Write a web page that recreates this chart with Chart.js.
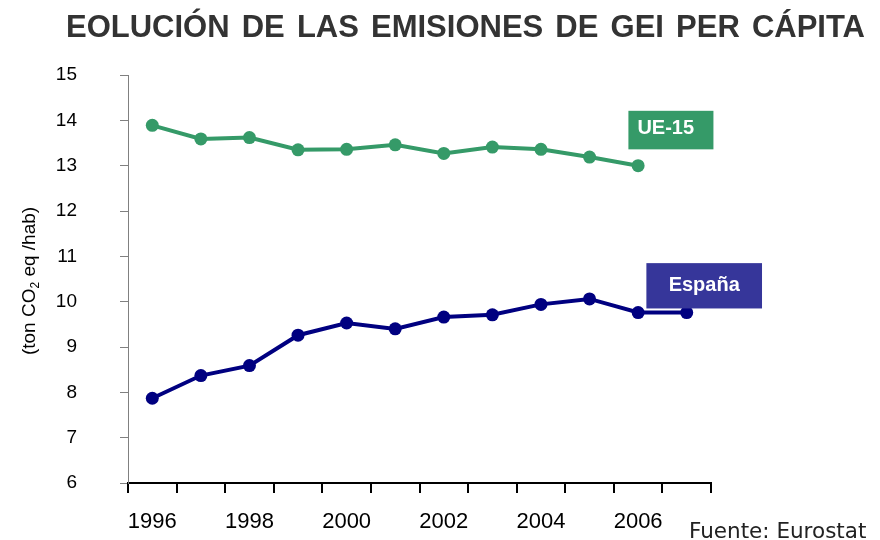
<!DOCTYPE html>
<html lang="es">
<head>
<meta charset="UTF-8">
<title>Evolución de las emisiones de GEI per cápita</title>
<script src="https://cdn.jsdelivr.net/npm/chart.js"></script>
<style>
  html, body { margin: 0; padding: 0; background: #fff; }
  .wrap { position: relative; width: 880px; height: 540px; }
</style>
</head>
<body>
<div class="wrap"><canvas id="chartGei" width="880" height="540"></canvas></div>
<script>
  // datos (t CO2 eq / habitante)
  const years = ['1996', '1997', '1998', '1999', '2000', '2001', '2002', '2003', '2004', '2005', '2006', '2007'];
  const xTickLabels = ['1996', '', '1998', '', '2000', '', '2002', '', '2004', '', '2006', ''];
  const ue15 = [13.89, 13.59, 13.62, 13.35, 13.36, 13.46, 13.27, 13.41, 13.36, 13.19, 13.00, null];
  const espana = [7.87, 8.37, 8.59, 9.26, 9.53, 9.40, 9.66, 9.71, 9.94, 10.06, 9.76, 9.76];
  const yMin = 6, yMax = 15;

  const GREEN = '#359a68';
  const NAVY = '#000080';
  const FONT = '"Liberation Sans", Arial, sans-serif';

  // etiquetas de serie (caja en unidades de los ejes)
  const seriesBoxes = [
    { text: 'UE-15', bg: GREEN, x0: 9.8, x1: 11.55, y0: 14.21, y1: 13.36, align: 'left' },
    { text: 'España', bg: '#36369a', x0: 10.17, x1: 12.55, y0: 10.85, y1: 9.85, align: 'center' }
  ];

  const decoPlugin = {
    id: 'deco',
    afterDraw(chart) {
      const ctx = chart.ctx;
      const xs = chart.scales.x, ys = chart.scales.y;

      // título (justificado entre 66 y 865 px)
      ctx.save();
      ctx.fillStyle = '#333333';
      ctx.font = 'bold 31px ' + FONT;
      ctx.textBaseline = 'alphabetic';
      ctx.textAlign = 'left';
      const title = 'EOLUCIÓN DE LAS EMISIONES DE GEI PER CÁPITA';
      const words = title.split(' ');
      const left = 66, right = 865;
      const wordsW = words.reduce((s, w) => s + ctx.measureText(w).width, 0);
      const gap = (right - left - wordsW) / (words.length - 1);
      let cx = left;
      words.forEach(w => { ctx.fillText(w, cx, 37); cx += ctx.measureText(w).width + gap; });
      ctx.restore();

      // título eje Y con subíndice
      ctx.save();
      ctx.translate(35, 281);
      ctx.rotate(-Math.PI / 2);
      ctx.fillStyle = '#000';
      const a = '(ton CO', b = '2', c = ' eq /hab)';
      ctx.font = '19px ' + FONT;
      const wa = ctx.measureText(a).width, wc = ctx.measureText(c).width;
      ctx.font = '12px ' + FONT;
      const wb = ctx.measureText(b).width;
      let px = -(wa + wb + wc) / 2;
      ctx.font = '19px ' + FONT;
      ctx.fillText(a, px, 0);
      ctx.font = '12px ' + FONT;
      ctx.fillText(b, px + wa, 4);
      ctx.font = '19px ' + FONT;
      ctx.fillText(c, px + wa + wb, 0);
      ctx.restore();

      // cajas de serie
      seriesBoxes.forEach(bx => {
        const l = xs.getPixelForValue(bx.x0), r = xs.getPixelForValue(bx.x1);
        const t = ys.getPixelForValue(bx.y0), btm = ys.getPixelForValue(bx.y1);
        ctx.save();
        ctx.fillStyle = bx.bg;
        ctx.fillRect(l, t, r - l, btm - t);
        ctx.fillStyle = '#fff';
        ctx.font = 'bold 20px ' + FONT;
        ctx.textBaseline = 'middle';
        if (bx.align === 'left') {
          ctx.textAlign = 'left';
          ctx.fillText(bx.text, l + 9, (t + btm) / 2 - 2);
        } else {
          ctx.textAlign = 'center';
          ctx.fillText(bx.text, (l + r) / 2, (t + btm) / 2);
        }
        ctx.restore();
      });

      // fuente
      ctx.save();
      ctx.fillStyle = '#222';
      ctx.font = '21.5px "DejaVu Sans", Verdana, sans-serif';
      ctx.textAlign = 'left';
      ctx.fillText('Fuente: Eurostat', 689, 538);
      ctx.restore();
    }
  };

  new Chart(document.getElementById('chartGei'), {
    type: 'line',
    data: {
      labels: years,
      datasets: [
        {
          label: 'UE-15',
          data: ue15,
          borderColor: GREEN,
          backgroundColor: GREEN,
          borderWidth: 4,
          pointRadius: 6.5,
          pointBorderWidth: 0,
          tension: 0
        },
        {
          label: 'España',
          data: espana,
          borderColor: NAVY,
          backgroundColor: NAVY,
          borderWidth: 4,
          pointRadius: 6.5,
          pointBorderWidth: 0,
          tension: 0
        }
      ]
    },
    options: {
      responsive: false,
      animation: false,
      layout: { padding: { top: 75, right: 169, left: 0, bottom: 0 } },
      plugins: {
        legend: { display: false },
        tooltip: { enabled: false },
        title: { display: false }
      },
      scales: {
        x: {
          type: 'category',
          offset: true,
          grid: { offset: true, drawOnChartArea: false, color: '#000', lineWidth: 2, tickLength: 10 },
          border: { color: '#000', width: 2 },
          ticks: {
            autoSkip: false, maxRotation: 0, padding: 16, color: '#000',
            font: { family: FONT, size: 22 },
            callback: (v, i) => xTickLabels[i]
          },
          afterFit: s => { s.height = 57; }
        },
        y: {
          min: yMin,
          max: yMax,
          ticks: { stepSize: 1, padding: 43, color: '#000', font: { family: FONT, size: 19 } },
          grid: { drawOnChartArea: false, color: '#808080', tickLength: 8 },
          border: { color: '#808080', width: 1 },
          afterFit: s => { s.width = 128; }
        }
      }
    },
    plugins: [decoPlugin]
  });
</script>
</body>
</html>
